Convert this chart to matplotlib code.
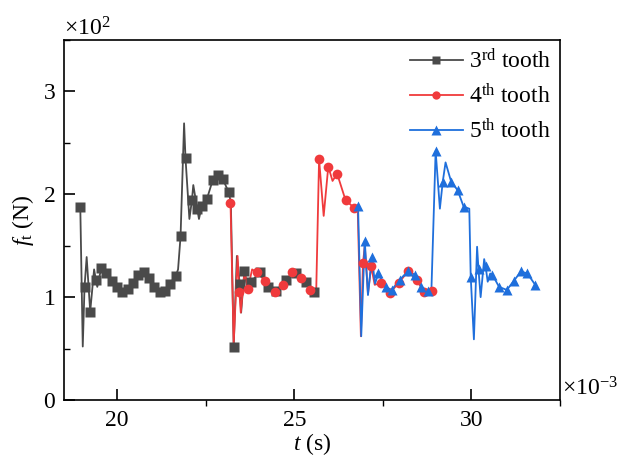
import numpy as np
import matplotlib
matplotlib.use('Agg')
import matplotlib.pyplot as plt
from matplotlib.lines import Line2D
from matplotlib.ticker import MultipleLocator, ScalarFormatter

plt.rcParams['font.family'] = 'Liberation Serif'
plt.rcParams['mathtext.fontset'] = 'custom'
plt.rcParams['mathtext.rm'] = 'Liberation Serif'
plt.rcParams['mathtext.it'] = 'Liberation Serif:italic'

FS = 17

# time in ms, force in N
# sampled points (drawn with markers)
t3_mk = [18.96, 19.08, 19.24, 19.40, 19.55, 19.69, 19.86, 20.00, 20.14, 20.31,
         20.45, 20.59, 20.75, 20.90, 21.04, 21.21, 21.35, 21.49, 21.66, 21.79,
         21.93, 22.11, 22.26, 22.39, 22.53, 22.70, 22.84, 22.98, 23.15, 23.29,
         23.46, 23.59, 23.78, 24.02, 24.25, 24.48, 24.78, 25.06, 25.33, 25.56]
f3_mk = [188, 110, 86, 117, 128, 123, 116, 110, 105, 108,
         114, 122, 124, 119, 110, 105, 106, 113, 121, 159,
         235, 194, 186, 189, 195, 214, 219, 215, 202, 52,
         113, 125, 115, 124, 110, 106, 117, 123, 115, 105]
# oscillation peaks and troughs between samples
t3_ex = [19.03, 19.14, 19.35, 19.44, 21.72, 21.89, 22.04, 22.15, 22.31, 23.21,
         23.38, 23.50, 23.68]
f3_ex = [52, 139, 127, 110, 127, 269, 176, 209, 176, 192,
         140, 85, 108]

t4_mk = [23.20, 23.45, 23.69, 23.94, 24.18, 24.46, 24.69, 24.93, 25.20, 25.45,
         25.70, 25.96, 26.21, 26.45, 26.69, 26.94, 27.17, 27.46, 27.70, 27.95,
         28.21, 28.45, 28.66, 28.89]
f4_mk = [192, 105, 108, 124, 116, 105, 112, 124, 119, 107,
         234, 227, 220, 194, 187, 133, 130, 114, 104, 114,
         125, 117, 105, 106]
t4_ex = [23.29, 23.40, 23.49, 23.60, 23.81, 25.62, 25.83, 26.08, 26.79, 26.88,
         26.99, 27.08, 27.27]
f4_ex = [55, 140, 85, 126, 127, 107, 179, 213, 186, 62,
         150, 103, 112]

t5_mk = [26.80, 26.99, 27.19, 27.37, 27.58, 27.75, 27.98, 28.20, 28.40, 28.59,
         28.77, 28.99, 29.19, 29.43, 29.61, 29.78, 29.98, 30.20, 30.40, 30.59,
         30.78, 31.00, 31.20, 31.40, 31.58, 31.80]
f5_mk = [189, 155, 139, 123, 110, 107, 117, 125, 122, 110,
         106, 242, 212, 212, 204, 188, 120, 127, 130, 122,
         110, 107, 116, 125, 123, 112]
t5_ex = [26.89, 27.08, 27.28, 28.87, 29.11, 29.27, 29.50, 29.94, 30.07, 30.16,
         30.26, 30.36, 30.46, 30.53]
f5_ex = [62, 102, 113, 106, 186, 231, 209, 186, 59, 149,
         100, 137, 115, 123]

labels = ['3$^{\\rm rd}$ tooth', '4$^{\\rm th}$ tooth', '5$^{\\rm th}$ tooth']
colors = ['#4a4a4a', '#f03a3c', '#1f6fdc']
markers = ['s', 'o', '^']
msizes = [6.5, 7, 7.5]


def curve(t_mk, f_mk, t_ex, f_ex):
    t = np.r_[t_mk, t_ex]
    f = np.r_[f_mk, f_ex]
    order = np.argsort(t)
    return t[order], f[order]


series = [(t3_mk, f3_mk, t3_ex, f3_ex),
          (t4_mk, f4_mk, t4_ex, f4_ex),
          (t5_mk, f5_mk, t5_ex, f5_ex)]

fig = plt.figure(figsize=(6.17, 4.61), dpi=100)
ax = fig.add_axes([0.1037, 0.1323, 0.8039, 0.7809])

handles = []
for (t_mk, f_mk, t_ex, f_ex), lab, c, m, ms in zip(series, labels, colors, markers, msizes):
    t, f = curve(t_mk, f_mk, t_ex, f_ex)
    ax.plot(t, f, color=c, lw=1.3, zorder=2)
    ax.plot(t_mk, f_mk, ls='none', marker=m, ms=ms, color=c, mec='none', zorder=3)
    handles.append(Line2D([], [], color=c, lw=1.3, marker=m, ms=ms - 1, mec='none', label=lab))

ax.set_xlim(18.5, 32.5)
ax.set_ylim(0, 350)

ax.xaxis.set_major_locator(MultipleLocator(5))
ax.xaxis.set_minor_locator(MultipleLocator(2.5))
ax.yaxis.set_major_locator(MultipleLocator(100))
ax.yaxis.set_minor_locator(MultipleLocator(50))

fmt = ScalarFormatter(useMathText=True)
fmt.set_powerlimits((0, 0))
ax.yaxis.set_major_formatter(fmt)
ax.yaxis.get_offset_text().set_fontsize(FS)

ax.tick_params(axis='both', which='major', direction='in', length=8, width=1.2,
               labelsize=FS, top=False, right=False)
ax.tick_params(axis='y', which='minor', direction='in', length=4, width=1.0)
ax.tick_params(axis='x', which='minor', direction='out', length=4, width=1.0)
ax.tick_params(axis='x', which='major', pad=7)
ax.tick_params(axis='y', which='major', pad=6)
for sp in ax.spines.values():
    sp.set_linewidth(1.2)

ax.set_xlabel('$t$ (s)', fontsize=FS, labelpad=0)
ax.set_ylabel('$f_{\\rm t}$ (N)', fontsize=FS, labelpad=5)
ax.text(1.005, 0.0, '$\\times$10$^{-3}$', transform=ax.transAxes,
        fontsize=FS, ha='left', va='bottom')

ax.legend(handles=handles, loc='upper right', bbox_to_anchor=(1.016, 1.022),
          frameon=False, fontsize=FS, handlelength=2.25, handletextpad=0.25,
          labelspacing=0.45, borderaxespad=0.3, numpoints=1)

fig.savefig('out.png', dpi=100)
